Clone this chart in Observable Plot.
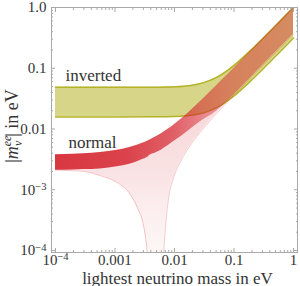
<!DOCTYPE html>
<html><head><meta charset="utf-8">
<script src="https://cdn.jsdelivr.net/npm/d3@7"></script>
<script src="https://cdn.jsdelivr.net/npm/@observablehq/plot@0.6"></script>
<style>html,body{margin:0;padding:0;background:#fff;}</style>
</head><body><div id="chart"></div>
<script>
// ---- data (eV) ----
// inverted hierarchy band
const ihMass  = [1e-4, 1e-3, 0.005, 0.01, 0.02, 0.03, 0.05, 0.07, 0.1, 0.2, 0.3, 0.5, 0.7, 1];
const ihUpper = [0.0485, 0.0485, 0.0488, 0.0495, 0.0527, 0.0574, 0.070, 0.0854, 0.1114, 0.206, 0.304, 0.502, 0.702, 1.0];
const ihLower = [0.0158, 0.0158, 0.0159, 0.0161, 0.0170, 0.0183, 0.0222, 0.0270, 0.0350, 0.0646, 0.0954, 0.1575, 0.220, 0.314];
// normal hierarchy band (lower edge ~0 inside the cancellation funnel)
const nhMass  = [1e-4, 2e-4, 3e-4, 5.7e-4, 1.09e-3, 1.71e-3, 2.37e-3, 3.06e-3, 3.3e-3, 3.45e-3, 3.55e-3, 3.6e-3, 5e-3, 6.4e-3, 6.55e-3, 6.65e-3, 7.06e-3, 8e-3, 9.7e-3, 0.0126, 0.02, 0.03, 0.05, 0.07, 0.1, 0.2, 0.3, 0.5, 1];
const nhUpper = [0.00377, 0.00384, 0.0039, 0.00409, 0.00446, 0.00491, 0.00541, 0.00594, 0.00612, 0.00624, 0.00632, 0.00636, 0.00749, 0.00868, 0.0088, 0.00889, 0.00924, 0.01006, 0.01158, 0.0142, 0.0212, 0.0308, 0.0504, 0.0701, 0.0998, 0.1994, 0.299, 0.499, 0.997];
const nhLower = [0.0021, 0.00205, 0.0020, 0.0017, 0.00131, 0.0009, 0.00051, 0.00024, 0.00015, 0.0001, 0.00005, 1e-6, 1e-6, 1e-6, 0.00005, 0.0001, 0.00024, 0.00075, 0.00159, 0.0029, 0.0060, 0.0100, 0.0176, 0.0251, 0.0363, 0.0731, 0.1098, 0.1831, 0.3664];
const nhDense = [0.0021, 0.00212, 0.00215, 0.0022, 0.0024, 0.0026, 0.0029, 0.0032, 0.0033, 0.0034, 0.0034, 0.0035, 0.0041, 0.0047, 0.0048, 0.0048, 0.0050, 0.0054, 0.0062, 0.0074, 0.0105, 0.0140, 0.0195, 0.0260, 0.0363, 0.0731, 0.1098, 0.1831, 0.3664];
// ticks and text
const xMajor = [1e-4, 1e-3, 1e-2, 1e-1, 1];
const xTickLabels = ["10^−4", "0.001", "0.01", "0.1", "1"];
const yMajor = [1e-4, 1e-3, 1e-2, 1e-1, 1];
const yTickLabels = ["10^−4", "10^−3", "0.01", "0.1", "1.0"];
const minorMult = [2, 3, 4, 5, 6, 7, 8, 9];
const bandLabels = [
  {text: "inverted", x: 1.47e-4, y: 0.075},
  {text: "normal", x: 1.65e-4, y: 0.00605}
];
const xTitle = "lightest neutrino mass in eV";

// ---- tables ----
const ih = ihMass.map((m, i) => ({m, hi: ihUpper[i], lo: ihLower[i]}));
const nh = nhMass.map((m, i) => ({m, hi: nhUpper[i], lo: nhLower[i], dense: nhDense[i]}));
const xMinor = xMajor.slice(0, -1).flatMap(d => minorMult.map(k => k * d));
const yMinor = yMajor.slice(0, -1).flatMap(d => minorMult.map(k => k * d));

const grey = "#a9a9a9", ink = "#333";
const red = "#d4202a";
const curve = "monotone-x";

const plot = Plot.plot({
  width: 300, height: 286,
  marginLeft: 51, marginRight: 3, marginTop: 7, marginBottom: 34,
  style: {fontFamily: "'Liberation Serif', serif", fontSize: "15px", color: ink, background: "#fff"},
  x: {type: "log", domain: [Math.pow(10, -4.0672), Math.pow(10, 0.0672)]},
  y: {type: "log", domain: [Math.pow(10, -4.033), 1]},
  marks: [
    Plot.areaY(ih, {x: "m", y1: "lo", y2: "hi", fill: "#d7d688", curve}),
    Plot.line(ih, {x: "m", y: "hi", stroke: "#b4b226", strokeWidth: 1.5, curve}),
    Plot.line(ih, {x: "m", y: "lo", stroke: "#b4b226", strokeWidth: 1.5, curve}),
    Plot.areaY(nh, {x: "m", y1: "lo", y2: "hi", fill: "url(#nhSparseGrad)", curve, clip: true}),
    Plot.areaY(nh, {x: "m", y1: "dense", y2: "hi", fill: "url(#nhDenseGrad)", curve}),
    Plot.line(nh, {x: "m", y: "lo", stroke: red, strokeOpacity: 0.3, strokeWidth: 0.8, curve, clip: true}),
    Plot.frame({stroke: grey}),
    // inward ticks on all four sides
    Plot.axisX(xMajor, {anchor: "bottom", tickSize: -4, fill: "none", stroke: grey, label: null}),
    Plot.axisX(xMinor, {anchor: "bottom", tickSize: -2, fill: "none", stroke: grey, label: null}),
    Plot.axisX(xMajor, {anchor: "top", tickSize: -4, fill: "none", stroke: grey, label: null}),
    Plot.axisX(xMinor, {anchor: "top", tickSize: -2, fill: "none", stroke: grey, label: null}),
    Plot.axisY(yMajor, {anchor: "left", tickSize: -4, fill: "none", stroke: grey, label: null}),
    Plot.axisY(yMinor, {anchor: "left", tickSize: -2, fill: "none", stroke: grey, label: null}),
    Plot.axisY(yMajor, {anchor: "right", tickSize: -4, fill: "none", stroke: grey, label: null}),
    Plot.axisY(yMinor, {anchor: "right", tickSize: -2, fill: "none", stroke: grey, label: null}),
    // tick labels
    Plot.axisX(xMajor, {anchor: "bottom", tickSize: 0, tickPadding: 2, fill: ink, label: null,
      tickFormat: d => xTickLabels[xMajor.indexOf(d)]}),
    Plot.axisY(yMajor, {anchor: "left", tickSize: 0, tickPadding: 5, fill: ink, label: null,
      tickFormat: d => yTickLabels[yMajor.indexOf(d)]}),
    Plot.text(bandLabels, {x: "x", y: "y", text: "text", textAnchor: "start", fontSize: 17, fill: ink}),
    Plot.text([xTitle], {frameAnchor: "bottom", lineAnchor: "bottom", dy: 31, dx: 3, fontSize: 17, fill: ink})
  ]
});

// gradients for the normal band
const ns = "http://www.w3.org/2000/svg";
const defs = document.createElementNS(ns, "defs");
function gradient(id, horizontal, stops) {
  const g = document.createElementNS(ns, "linearGradient");
  g.setAttribute("id", id);
  g.setAttribute("x1", "0"); g.setAttribute("y1", "0");
  g.setAttribute("x2", horizontal ? "1" : "0"); g.setAttribute("y2", horizontal ? "0" : "1");
  stops.forEach(([o, a]) => {
    const s = document.createElementNS(ns, "stop");
    s.setAttribute("offset", o);
    s.setAttribute("stop-color", red);
    s.setAttribute("stop-opacity", a);
    g.appendChild(s);
  });
  defs.appendChild(g);
}
gradient("nhDenseGrad", true, [[0, 0.88], [0.3, 0.82], [0.5, 0.66], [0.62, 0.46], [0.75, 0.36], [1, 0.3]]);
gradient("nhSparseGrad", false, [[0, 0.16], [0.34, 0.16], [0.45, 0.13], [0.55, 0.08], [0.67, 0.04], [1, 0.02]]);
plot.insertBefore(defs, plot.firstChild);

// superscripts in tick labels
d3.select(plot).selectAll("text").each(function () {
  const m = /^10\^(.+)$/.exec(this.textContent);
  if (m) {
    const sel = d3.select(this);
    sel.text("10");
    sel.append("tspan").attr("dy", "-0.45em").attr("font-size", "0.7em").text(m[1]);
  }
});

// y-axis title with super/subscripts
const yt = d3.select(plot).append("text")
  .attr("transform", "translate(18,126) rotate(-90)")
  .attr("text-anchor", "middle")
  .attr("font-size", 18)
  .attr("fill", ink);
yt.append("tspan").text("|");
yt.append("tspan").attr("font-style", "italic").text("m");
yt.append("tspan").attr("font-style", "italic").attr("font-size", 12).attr("dy", -7).text("ee");
yt.append("tspan").attr("font-style", "italic").attr("font-size", 12).attr("dx", -10.5).attr("dy", 11).text("ν");
yt.append("tspan").attr("dx", 4).attr("dy", -4).text("|");
yt.append("tspan").text(" in eV");

document.getElementById("chart").append(plot);
</script>
</body></html>
